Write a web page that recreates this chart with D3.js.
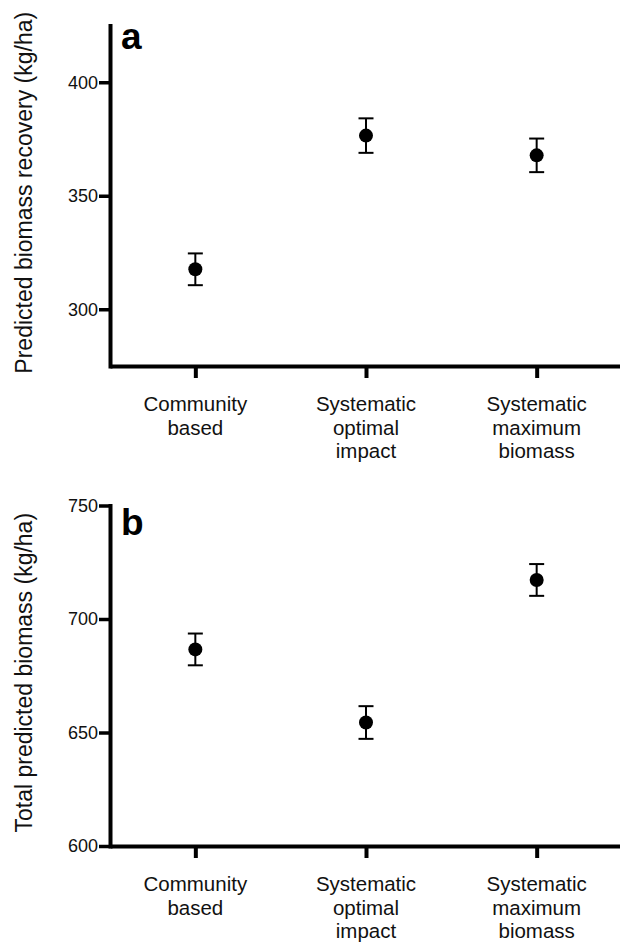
<!DOCTYPE html>
<html>
<head>
<meta charset="utf-8">
<script src="https://cdn.jsdelivr.net/npm/d3@7"></script>
<style>
  body { margin: 0; background: #fff; }
  svg { display: block; font-family: "Liberation Sans", Arial, Helvetica, sans-serif; }
</style>
</head>
<body>
<script>
var Width = 620;
var Height = 945;

// data
var categories = ["Community based", "Systematic optimal impact", "Systematic maximum biomass"];
var categoryLines = [["Community", "based"], ["Systematic", "optimal", "impact"], ["Systematic", "maximum", "biomass"]];

var recoveryMean = [317.6, 376.5, 367.8];
var recoveryErr = [7.0, 7.6, 7.4];
var recoveryTicks = [300, 350, 400];

var totalMean = [686.6, 654.4, 717.2];
var totalErr = [7.0, 7.2, 7.0];
var totalTicks = [600, 650, 700, 750];

var svg = d3.select("body").append("svg")
  .attr("width", Width)
  .attr("height", Height);

var x = d3.scalePoint()
  .domain(categories)
  .range([110, 622])
  .padding(0.5);

function drawPanel(opts) {
  var y = d3.scaleLinear()
    .domain(opts.domain)
    .range([opts.bottom, opts.top]);

  var g = svg.append("g");

  // y axis
  var yAxis = g.append("g")
    .attr("transform", "translate(110,0)")
    .call(d3.axisLeft(y).tickValues(opts.ticks).tickSize(11).tickSizeOuter(0).tickPadding(1));
  yAxis.select(".domain").attr("stroke", "#000").attr("stroke-width", 4).attr("stroke-linecap", "square");
  yAxis.selectAll(".tick line").attr("stroke", "#000").attr("stroke-width", 3.5);
  yAxis.selectAll(".tick text")
    .attr("font-size", 18)
    .attr("fill", "#111")
    .attr("font-family", "'Liberation Sans', Arial, sans-serif");

  // x axis
  var xAxis = g.append("g")
    .attr("transform", "translate(0," + opts.bottom + ")")
    .call(d3.axisBottom(x).tickSize(12).tickSizeOuter(0).tickFormat(""));
  xAxis.select(".domain").attr("stroke", "#000").attr("stroke-width", 4);
  xAxis.selectAll(".tick line").attr("stroke", "#000").attr("stroke-width", 4);

  // multi-line category labels
  categories.forEach(function (c, i) {
    var t = g.append("text")
      .attr("text-anchor", "middle")
      .attr("font-size", 20.5)
      .attr("fill", "#111")
      .attr("x", x(c))
      .attr("y", opts.bottom + 45);
    categoryLines[i].forEach(function (line, j) {
      t.append("tspan")
        .attr("x", x(c))
        .attr("dy", j === 0 ? 0 : 23.5)
        .text(line);
    });
  });

  // y title
  g.append("text")
    .attr("transform", "translate(32," + ((opts.top + opts.bottom) / 2 - 3) + ") rotate(-90)")
    .attr("text-anchor", "middle")
    .attr("font-size", 23)
    .attr("fill", "#111")
    .text(opts.title);

  // panel letter
  g.append("text")
    .attr("x", 121)
    .attr("y", opts.letterY)
    .attr("font-size", 37)
    .attr("font-weight", "bold")
    .attr("fill", "#000")
    .text(opts.letter);

  // error bars
  var bars = g.selectAll(".err")
    .data(opts.mean)
    .enter()
    .append("g")
    .attr("class", "err");

  bars.append("line")
    .attr("x1", function (d, i) { return x(categories[i]); })
    .attr("x2", function (d, i) { return x(categories[i]); })
    .attr("y1", function (d, i) { return y(d - opts.err[i]); })
    .attr("y2", function (d, i) { return y(d + opts.err[i]); })
    .attr("stroke", "#000")
    .attr("stroke-width", 2);

  [-1, 1].forEach(function (s) {
    bars.append("line")
      .attr("x1", function (d, i) { return x(categories[i]) - 7.5; })
      .attr("x2", function (d, i) { return x(categories[i]) + 7.5; })
      .attr("y1", function (d, i) { return y(d + s * opts.err[i]); })
      .attr("y2", function (d, i) { return y(d + s * opts.err[i]); })
      .attr("stroke", "#000")
      .attr("stroke-width", 2);
  });

  bars.append("circle")
    .attr("cx", function (d, i) { return x(categories[i]); })
    .attr("cy", function (d) { return y(d); })
    .attr("r", 7)
    .attr("fill", "#000");
}

drawPanel({
  domain: [275, 425],
  top: 25.5,
  bottom: 366,
  ticks: recoveryTicks,
  mean: recoveryMean,
  err: recoveryErr,
  title: "Predicted biomass recovery (kg/ha)",
  letter: "a",
  letterY: 49
});

drawPanel({
  domain: [600, 750],
  top: 505.5,
  bottom: 846,
  ticks: totalTicks,
  mean: totalMean,
  err: totalErr,
  title: "Total predicted biomass (kg/ha)",
  letter: "b",
  letterY: 535
});
</script>
</body>
</html>
